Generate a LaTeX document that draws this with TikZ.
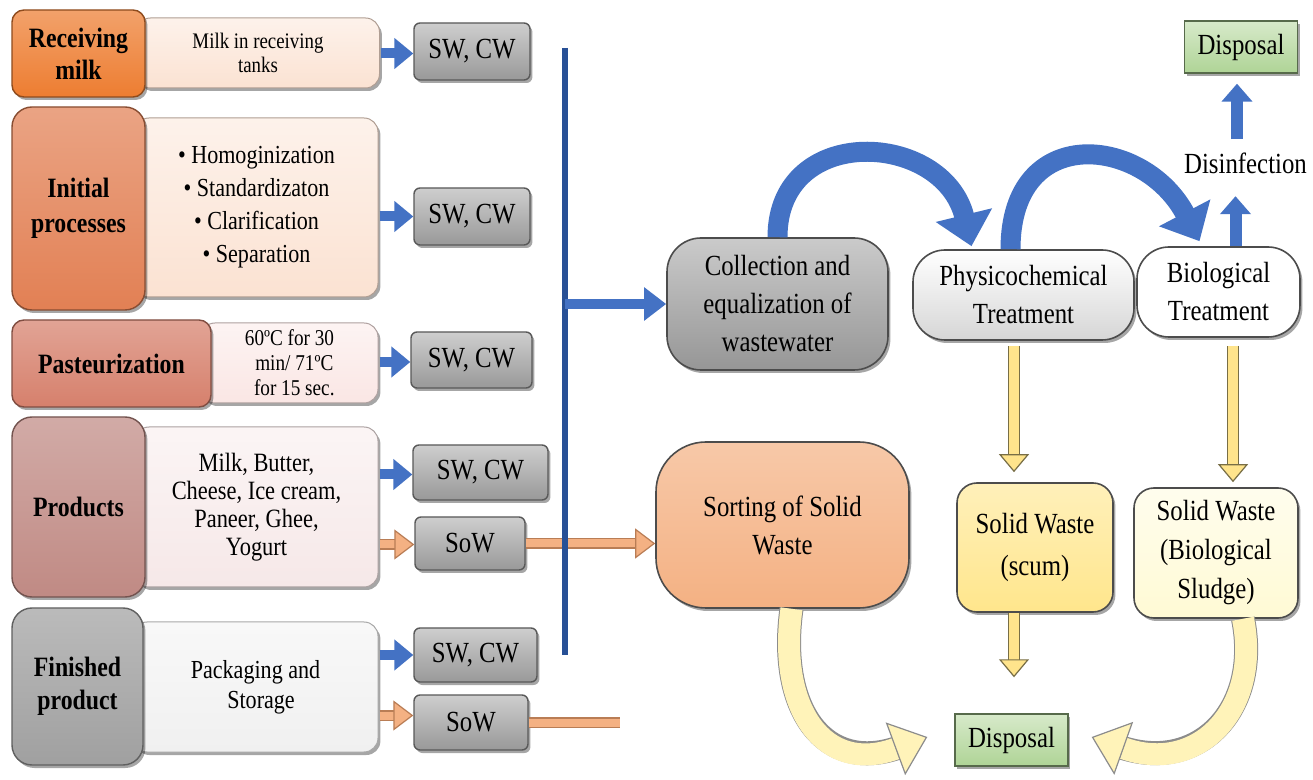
\documentclass[tikz,border=0pt]{standalone}
\usepackage{fontspec}
\setmainfont{Liberation Serif}[FakeStretch=0.85]
\usetikzlibrary{arrows.meta,shadows,calc}
\newcommand\myfs[2]{\fontsize{#1}{#2}\selectfont}
\definecolor{orA}{RGB}{237,125,49}
\definecolor{orB}{RGB}{226,128,84}
\definecolor{orC}{RGB}{214,128,108}
\definecolor{orD}{RGB}{192,138,132}
\definecolor{grF}{RGB}{160,160,160}
\definecolor{pkA}{RGB}{251,226,210}
\definecolor{pkC}{RGB}{250,230,228}
\definecolor{pkD}{RGB}{246,232,232}
\definecolor{pkF}{RGB}{240,240,240}
\definecolor{swg}{RGB}{166,166,166}
\definecolor{blueA}{RGB}{68,114,196}
\definecolor{blueE}{RGB}{40,80,150}
\definecolor{tanA}{RGB}{244,177,131}
\definecolor{tanE}{RGB}{185,125,85}
\definecolor{yelA}{RGB}{255,228,140}
\definecolor{yelL}{RGB}{255,243,185}
\definecolor{yelE}{RGB}{120,110,70}
\definecolor{collg}{RGB}{150,150,150}
\definecolor{physg}{RGB}{214,214,214}
\definecolor{sortA}{RGB}{244,177,131}
\definecolor{scumA}{RGB}{255,230,140}
\definecolor{sludA}{RGB}{255,250,212}
\definecolor{dispA}{RGB}{175,212,150}
\tikzset{
  every node/.style={inner sep=0pt, align=center, text=black},
  shadowed/.style={drop shadow={shadow xshift=1.2pt, shadow yshift=-1.5pt, opacity=0.35, fill=black}},
  lab/.style={rounded corners=6pt, draw=#1!60!black, line width=0.7pt,
    top color=#1!72!white, bottom color=#1, font=\myfs{14}{16}\bfseries, shadowed},
  tbox/.style={rounded corners=7pt, draw=#1!70!black, line width=0.5pt,
    top color=#1!45!white, bottom color=#1, shadowed},
  swbox/.style={rounded corners=3pt, draw=black!65, line width=0.7pt,
    top color=swg!55!white, bottom color=swg!92!black, font=\myfs{14.6}{16}, shadowed},
  bigbox/.style={draw=black!70, line width=0.8pt, font=\myfs{14.6}{19}, shadowed},
  dispbox/.style={draw=dispA!50!black, line width=0.7pt, top color=dispA!50!white,
    bottom color=dispA, font=\myfs{14.6}{16}, shadowed, minimum width=56.5pt, minimum height=26pt},
  barrow/.style={draw=blueA, line width=5pt, -{Triangle[width=15pt,length=9.5pt,color=blueA]}},
  bbig/.style={draw=blueA, line width=5pt, -{Triangle[width=16pt,length=11pt,color=blueA]}},
  bup/.style={draw=blueA, line width=6pt, -{Triangle[width=15pt,length=9pt,color=blueA]}},
  bcurve/.style={draw=blueA, line width=10pt, -{Triangle[width=28pt,length=16pt,color=blueA]}},
  vline/.style={draw=blueE, line width=3pt},
  tarrow/.style={draw=tanA, line width=4pt,
    preaction={draw=tanE, line width=5.2pt, arrows=-, shorten >=8pt},
    -{Triangle[width=15pt,length=10pt,color=tanE,fill=tanA,line width=0.6pt]}},
  tline/.style={draw=tanA, line width=4pt, preaction={draw=tanE, line width=5.2pt}},
  yarrow/.style={draw=yelA, line width=5pt,
    preaction={draw=yelE, line width=6.4pt, arrows=-, shorten >=7pt},
    -{Triangle[width=15pt,length=9pt,color=yelE,fill=yelA,line width=0.6pt]}},
  ycurve/.style={draw=yelL, line width=11pt,
    preaction={draw=black!45, line width=12pt, arrows=-, shorten >=14pt},
    -{Triangle[width=28pt,length=17pt,color=black!45,fill=yelL,line width=0.6pt]}},
}
\begin{document}
\begin{tikzpicture}[x=0.5pt,y=-0.5pt]
\useasboundingbox (0,0) rectangle (1313,780);
\fill[white] (0,0) rectangle (1313,780);

% ---- left column: text boxes (behind labels)
\node[tbox=pkA, minimum width=121.5pt, minimum height=35pt, font=\myfs{11.1}{11.7}] (recvtxt) at (258,53) {Milk in receiving\\tanks};
\node[tbox=pkA, minimum width=121.5pt, minimum height=89.5pt, font=\myfs{13}{16.5}] (inittxt) at (256.5,207.5)
  {\textbullet\ Homoginization\\\textbullet\ Standardizaton\\\textbullet\ Clarification\\\textbullet\ Separation};
\node[tbox=pkC, minimum width=88.5pt, minimum height=40pt, font=\myfs{11.3}{12.5}] (pasttxt) at (289.5,363)
  {60ºC for 30\\\ \ min/ 71ºC\\\ \ for 15 sec.};
\node[tbox=pkD, minimum width=121.5pt, minimum height=80pt, font=\myfs{13.2}{14}] (prodtxt) at (256.5,507)
  {Milk, Butter,\\Cheese, Ice cream,\\Paneer, Ghee,\\Yogurt};
\node[tbox=pkF, minimum width=122.5pt, minimum height=65pt, font=\myfs{13}{15}] (fintxt) at (255.5,687)
  {Packaging and\\\ \ Storage};

% ---- labels
\node[lab=orA, minimum width=66.5pt, minimum height=43.5pt] (recv) at (78.5,53.5) {Receiving\\milk};
\node[lab=orB, minimum width=66.5pt, minimum height=101.5pt, rounded corners=10pt, font=\myfs{14}{17.5}\bfseries] (init) at (78.5,208.5) {Initial\\processes};
\node[lab=orC, minimum width=99.5pt, minimum height=43.5pt] (past) at (111.5,363.5) {Pasteurization};
\node[lab=orD, minimum width=66.5pt, minimum height=90pt, rounded corners=10pt] (prod) at (78.5,507) {Products};
\node[lab=grF, minimum width=65.5pt, minimum height=78.5pt, rounded corners=10pt, font=\myfs{14}{16.5}\bfseries] (fin) at (77.5,686.5) {Finished\\product};

% ---- SW / SoW boxes
\node[swbox, minimum width=58pt, minimum height=28.5pt] (sw1) at (472,51.5) {SW, CW};
\node[swbox, minimum width=58pt, minimum height=28.5pt] (sw2) at (472,216.5) {SW, CW};
\node[swbox, minimum width=60.5pt, minimum height=28pt] (sw3) at (471.5,360) {SW, CW};
\node[swbox, minimum width=67.5pt, minimum height=27.5pt] (sw4) at (480.5,472.5) {SW, CW};
\node[swbox, minimum width=55pt, minimum height=26.5pt] (sow1) at (470,543.5) {SoW};
\node[swbox, minimum width=61.5pt, minimum height=27pt] (sw5) at (475.5,655) {SW, CW};
\node[swbox, minimum width=57pt, minimum height=27.5pt] (sow2) at (471,722.5) {SoW};

% ---- small arrows
\draw[barrow] ($(recvtxt.east |- sw1.west)+(1,2)$) -- ($(sw1.west)+(0,2)$);
\draw[barrow] ($(inittxt.east |- sw2.west)+(1,0)$) -- (sw2.west);
\draw[barrow] ($(pasttxt.east |- sw3.west)+(1,2)$) -- ($(sw3.west)+(0,2)$);
\draw[barrow] ($(prodtxt.east |- sw4.west)+(1,2)$) -- ($(sw4.west)+(0,2)$);
\draw[tarrow] ($(prodtxt.east |- sow1.west)+(1,1)$) -- ($(sow1.west)+(0,1)$);
\draw[barrow] ($(fintxt.east |- sw5.west)+(1,0)$) -- (sw5.west);
\draw[tarrow] ($(fintxt.east |- sow2.west)+(1,-7)$) -- ($(sow2.west)+(0,-7)$);

% ---- right side nodes
\node[bigbox, rounded corners=17pt, top color=collg!50!white, bottom color=collg, minimum width=110.5pt, minimum height=66pt] (coll) at (777.5,304)
  {Collection and\\equalization of\\wastewater};
\node[bigbox, rounded corners=16pt, top color=white, bottom color=physg, minimum width=110.5pt, minimum height=45pt] (phys) at (1023.5,295)
  {Physicochemical\\Treatment};
\node[bigbox, rounded corners=16pt, fill=white, minimum width=81.5pt, minimum height=45pt] (biol) at (1218.5,292)
  {Biological\\Treatment};
\node[dispbox] (dispT) at (1241,47) {Disposal};
\node[font=\myfs{14.6}{16}] (disinf) at (1245.5,163) {Disinfection};
\node[bigbox, rounded corners=25pt, top color=sortA!70!white, bottom color=sortA, minimum width=126.5pt, minimum height=83pt] (sort) at (782.5,525)
  {Sorting of Solid\\Waste};
\node[bigbox, rounded corners=10pt, top color=scumA!60!white, bottom color=scumA, minimum width=78pt, minimum height=64.5pt, font=\myfs{14.6}{21}] (scum) at (1035,547.5)
  {Solid Waste\\(scum)};
\node[bigbox, rounded corners=10pt, top color=sludA!40!white, bottom color=sludA, minimum width=82pt, minimum height=65pt, font=\myfs{14.6}{19.5}] (sludge) at (1216,553)
  {Solid Waste\\(Biological\\Sludge)};
\node[dispbox] (dispB) at (1011.5,740) {Disposal};

% ---- solid waste lines
\coordinate (sowend) at (620,722.5);
\draw[tarrow] (sow1.east) -- (sort.west |- sow1.east);
\draw[tline] (sow2.east) -- (sowend);

% ---- blue collector line and arrow
\coordinate (vtop) at (565,48);
\coordinate (vbot) at (565,655);
\draw[vline] (vtop) -- (vbot);
\draw[bbig] (vtop |- coll.west) -- (coll.west);

% ---- blue curved arrows
\draw[bcurve] (coll.north) .. controls ($(coll.north)+(0,-115)$) and ($(phys.north)+(-80,-118)$) .. ($(phys.north)+(-52,-3)$);
\draw[bcurve] ($(phys.north)+(-13,0)$) .. controls ($(phys.north)+(-13,-128)$) and ($(biol.north)+(-74,-110)$) .. ($(biol.north)+(-19,-5)$);

% ---- disinfection arrows
\draw[bup] ($(biol.north)+(17,0)$) -- ($(biol.north)+(17,-50)$);
\draw[bup] ($(disinf.north)+(-8.5,-13)$) -- ($(dispT.south)+(-4,10)$);

% ---- yellow arrows
\coordinate (ya) at (1014,0);
\coordinate (yb) at (1233,0);
\draw[yarrow] ($(phys.south -| ya)+(0,5)$) -- ($(scum.north -| ya)+(0,-10)$);
\draw[yarrow] ($(biol.south -| yb)+(0,8)$) -- ($(sludge.north -| yb)+(0,-5)$);
\draw[yarrow] (scum.south -| ya) -- ($(dispB.north -| ya)+(0,-36)$);

\draw[ycurve] ($(sort.south)+(9,0)$) .. controls ($(sort.south)+(-5,100)$) and ($(dispB.west)+(-130,35)$) .. ($(dispB.west)+(-27,-3)$);
\draw[ycurve] ($(sludge.south)+(27,0)$) .. controls ($(sludge.south)+(45,90)$) and ($(dispB.east)+(130,35)$) .. ($(dispB.east)+(23,-3)$);
\end{tikzpicture}
\end{document}
